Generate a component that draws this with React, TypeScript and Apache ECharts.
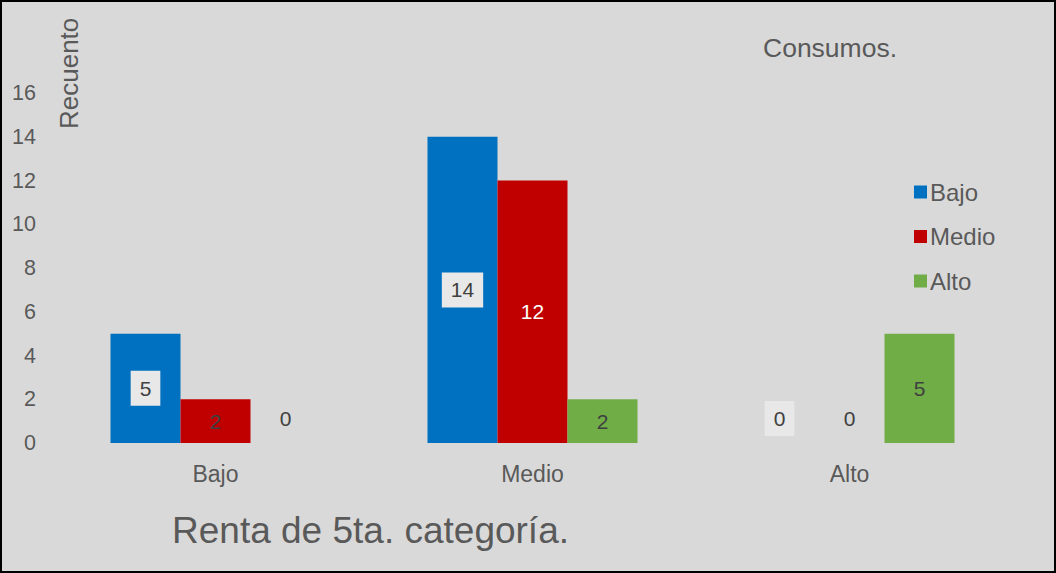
import React, { useEffect, useRef } from "react";
import * as echarts from "echarts";

const categories = ["Bajo", "Medio", "Alto"];
const seriesNames = ["Bajo", "Medio", "Alto"];
const valuesBajo = [5, 14, 0];
const valuesMedio = [2, 12, 0];
const valuesAlto = [0, 2, 5];
const yTicks = [0, 2, 4, 6, 8, 10, 12, 14, 16];

const FONT = "'Liberation Sans', Arial, sans-serif";
const colors = ["#0070c0", "#c00000", "#70ad47"];

function makeSeries(name: string, values: number[], color: string, labelBg: string, whiteAbove: number) {
  return {
    name,
    type: "bar",
    barWidth: 70,
    barGap: "0%",
    itemStyle: { color },
    data: values.map((v) => ({
      value: v,
      label:
        v === 0
          ? { position: "top", distance: 7 }
          : v >= whiteAbove
          ? { color: "#ffffff" }
          : {},
    })),
    label: {
      show: true,
      position: "inside",
      fontFamily: FONT,
      fontSize: 21,
      color: "#404040",
      backgroundColor: labelBg,
      padding: [7, 9],
    },
  };
}

export default function App() {
  const ref = useRef<HTMLDivElement>(null);
  useEffect(() => {
    if (!ref.current) return;
    const chart = echarts.init(ref.current, null, { renderer: "svg" });
    chart.setOption({
      animation: false,
      backgroundColor: "transparent",
      textStyle: { fontFamily: FONT },
      grid: { left: 57, right: 48, top: 93, bottom: 130 },
      legend: {
        orient: "vertical",
        left: 914,
        top: 180,
        padding: 0,
        icon: "rect",
        itemWidth: 13,
        itemHeight: 13,
        itemGap: 20.5,
        textStyle: { fontSize: 24, color: "#595959", fontFamily: FONT, padding: [0, 0, 0, -2] },
        data: seriesNames,
      },
      graphic: [
        {
          type: "text",
          x: 56,
          y: 129,
          rotation: Math.PI / 2,
          style: { text: "Recuento", fontSize: 26, fontFamily: FONT, fill: "#595959", align: "left", verticalAlign: "top" },
        },
        {
          type: "text",
          x: 763,
          y: 48,
          style: { text: "Consumos.", fontSize: 26.5, fontFamily: FONT, fill: "#595959", align: "left", verticalAlign: "middle" },
        },
        {
          type: "text",
          x: 172,
          y: 530,
          style: { text: "Renta de 5ta. categoría.", fontSize: 37, fontFamily: FONT, fill: "#595959", align: "left", verticalAlign: "middle" },
        },
      ],
      xAxis: {
        type: "category",
        data: categories,
        axisLine: { show: false },
        axisTick: { show: false },
        axisLabel: { fontSize: 23, color: "#595959", margin: 19, fontFamily: FONT },
      },
      yAxis: {
        type: "value",
        min: yTicks[0],
        max: yTicks[yTicks.length - 1],
        interval: 2,
        splitLine: { show: false },
        axisLine: { show: false },
        axisTick: { show: false },
        axisLabel: { fontSize: 21.5, color: "#595959", margin: 21, fontFamily: FONT, align: "right" },
      },
      series: [
        makeSeries(seriesNames[0], valuesBajo, colors[0], "#e8e8e8", Infinity),
        makeSeries(seriesNames[1], valuesMedio, colors[1], "transparent", 10),
        makeSeries(seriesNames[2], valuesAlto, colors[2], "transparent", Infinity),
      ],
    });
    return () => chart.dispose();
  }, []);
  return (
    <>
      <div
        style={{
          position: "fixed",
          left: 0,
          top: 0,
          width: 1056,
          height: 573,
          boxSizing: "border-box",
          border: "2px solid #000",
          background: "#d9d9d9",
        }}
      />
      <div ref={ref} style={{ position: "fixed", left: 0, top: 0, width: 1056, height: 573 }} />
    </>
  );
}
